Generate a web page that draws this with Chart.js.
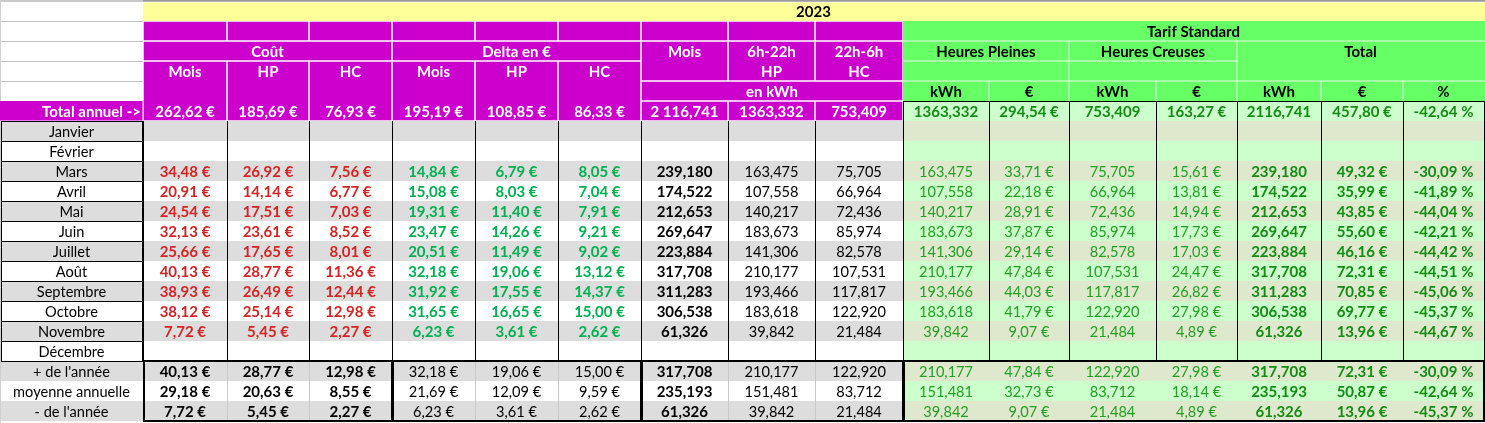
<!DOCTYPE html>
<html>
<head>
<meta charset="utf-8">
<script src="https://cdn.jsdelivr.net/npm/chart.js@4/dist/chart.umd.min.js"></script>
<style>
  html, body { margin: 0; padding: 0; background: #fff; }
  #wrap { width: 1485px; height: 423px; position: relative; }
</style>
</head>
<body>
<div id="wrap"><canvas id="myChart"></canvas></div>
<script>
// months (Janvier .. Décembre), null = no reading yet
const months = ['Janvier','Février','Mars','Avril','Mai','Juin','Juillet','Août','Septembre','Octobre','Novembre','Décembre']

// coût (€)
const coutMois = [null,null,34.48,20.91,24.54,32.13,25.66,40.13,38.93,38.12,7.72,null]
const coutHP   = [null,null,26.92,14.14,17.51,23.61,17.65,28.77,26.49,25.14,5.45,null]
const coutHC   = [null,null,7.56,6.77,7.03,8.52,8.01,11.36,12.44,12.98,2.27,null]
// delta en €
const deltaMois = [null,null,14.84,15.08,19.31,23.47,20.51,32.18,31.92,31.65,6.23,null]
const deltaHP   = [null,null,6.79,8.03,11.40,14.26,11.49,19.06,17.55,16.65,3.61,null]
const deltaHC   = [null,null,8.05,7.04,7.91,9.21,9.02,13.12,14.37,15.00,2.62,null]
// kWh
const kwhMois = [null,null,239.180,174.522,212.653,269.647,223.884,317.708,311.283,306.538,61.326,null]
const kwhHP   = [null,null,163.475,107.558,140.217,183.673,141.306,210.177,193.466,183.618,39.842,null]
const kwhHC   = [null,null,75.705,66.964,72.436,85.974,82.578,107.531,117.817,122.920,21.484,null]
// tarif standard
const stdHPeur  = [null,null,33.71,22.18,28.91,37.87,29.14,47.84,44.03,41.79,9.07,null]
const stdHCeur  = [null,null,15.61,13.81,14.94,17.73,17.03,24.47,26.82,27.98,4.89,null]
const stdTotEur = [null,null,49.32,35.99,43.85,55.60,46.16,72.31,70.85,69.77,13.96,null]
const stdPct    = [null,null,-30.09,-41.89,-44.04,-42.21,-44.42,-44.51,-45.06,-45.37,-44.67,null]

// one value per column B..Q
const totalAnnuel = [262.62,185.69,76.93,195.19,108.85,86.33,2116.741,1363.332,753.409,1363.332,294.54,753.409,163.27,2116.741,457.80,-42.64]
const sumLabels = ["+ de l'année", 'moyenne annuelle', "- de l'année"]
const sumMax = [40.13,28.77,12.98,32.18,19.06,15.00,317.708,210.177,122.920,210.177,47.84,122.920,27.98,317.708,72.31,-30.09]
const sumAvg = [29.18,20.63,8.55,21.69,12.09,9.59,235.193,151.481,83.712,151.481,32.73,83.712,18.14,235.193,50.87,-42.64]
const sumMin = [7.72,5.45,2.27,6.23,3.61,2.62,61.326,39.842,21.484,39.842,9.07,21.484,4.89,61.326,13.96,-45.37]

// layout (in scale units)
const colEdges = [0,143,227,309,392,475,558,641,728,815,903,989,1069,1156,1237,1321,1403,1484]
const hdrEdges = [0,21,41,61,81,101,121]
const bodyTop = 121
const rowH = 20

const MAG = '#cc00cc', YEL = '#ffff99', GRN = '#66ff66'
const GRAY = '#dddddd', LGRN = '#ccffcc', GGRN = '#dde8cc'
const RED = '#d42424', DGRN = '#00b050', TGRN = '#22a022', BGRN = '#128c12'
const FONT = 'Lato, "Open Sans", sans-serif'

const eur = v => v.toFixed(2).replace('.', ',') + ' €'
const kwh = v => v.toFixed(3).replace('.', ',')
const pct = v => v.toFixed(2).replace('.', ',') + ' %'
const kwhSp = v => { const s = kwh(v).split(','); return s[0].replace(/\B(?=(\d{3})+(?!\d))/g, ' ') + ',' + s[1] }

// column styles: format, colour/bold for months, colour/bold for the summary rows
const colDefs = [
  {vals: coutMois, f: eur, c: RED, b: true, sc: '#000', sb: true},
  {vals: coutHP, f: eur, c: RED, b: true, sc: '#000', sb: true},
  {vals: coutHC, f: eur, c: RED, b: true, sc: '#000', sb: true},
  {vals: deltaMois, f: eur, c: DGRN, b: true, sc: '#000', sb: false},
  {vals: deltaHP, f: eur, c: DGRN, b: true, sc: '#000', sb: false},
  {vals: deltaHC, f: eur, c: DGRN, b: true, sc: '#000', sb: false},
  {vals: kwhMois, f: kwh, c: '#000', b: true, sc: '#000', sb: true},
  {vals: kwhHP, f: kwh, c: '#000', b: false, sc: '#000', sb: false},
  {vals: kwhHC, f: kwh, c: '#000', b: false, sc: '#000', sb: false},
  {vals: kwhHP, f: kwh, c: TGRN, b: false, sc: TGRN, sb: false},
  {vals: stdHPeur, f: eur, c: TGRN, b: false, sc: TGRN, sb: false},
  {vals: kwhHC, f: kwh, c: TGRN, b: false, sc: TGRN, sb: false},
  {vals: stdHCeur, f: eur, c: TGRN, b: false, sc: TGRN, sb: false},
  {vals: kwhMois, f: kwh, c: BGRN, b: true, sc: BGRN, sb: true},
  {vals: stdTotEur, f: eur, c: BGRN, b: true, sc: BGRN, sb: true},
  {vals: stdPct, f: pct, c: BGRN, b: true, sc: BGRN, sb: true}
]

const tablePlugin = {
  id: 'table',
  afterDraw(chart) {
    const ctx = chart.ctx
    const sx = chart.scales.x, sy = chart.scales.y
    const X = v => sx.getPixelForValue(v)
    const Y = v => sy.getPixelForValue(v)

    function rect(x0, x1, y0, y1, color) {
      ctx.fillStyle = color
      ctx.fillRect(X(x0), Y(y0), X(x1) - X(x0), Y(y1) - Y(y0))
    }
    function cell(c0, c1, y0, y1, color, inset) {
      const i = inset || 0
      rect(colEdges[c0] + i, colEdges[c1 + 1] - i, y0 + i, y1 - i, color)
    }
    function text(str, c0, c1, yc, color, bold, align) {
      ctx.font = bold ? 'bold 15px ' + FONT : '14.6px ' + FONT
      ctx.fillStyle = color
      ctx.textBaseline = 'middle'
      ctx.textAlign = align || 'center'
      let x = (X(colEdges[c0]) + X(colEdges[c1 + 1])) / 2
      if (align === 'right') x = X(colEdges[c1 + 1]) - 2
      ctx.fillText(str, x, Y(yc) + 1)
    }
    function hline(x0, x1, y, color, w) {
      ctx.strokeStyle = color; ctx.lineWidth = w || 1
      ctx.beginPath(); ctx.moveTo(X(x0), Y(y)); ctx.lineTo(X(x1), Y(y)); ctx.stroke()
    }
    function vline(x, y0, y1, color, w) {
      ctx.strokeStyle = color; ctx.lineWidth = w || 1
      ctx.beginPath(); ctx.moveTo(X(x), Y(y0)); ctx.lineTo(X(x), Y(y1)); ctx.stroke()
    }
    const mid = r => (hdrEdges[r] + hdrEdges[r + 1]) / 2
    const H = hdrEdges

    // top grey strip + grid of column A
    rect(0, 1485, 0, 2, '#c8c8c8')
    rect(143, 1485, 0, 1.5, '#9a9a9a')
    for (let r = 1; r <= 4; r++) hline(0, 143, H[r] + 0.5, '#c0c0c0')
    vline(0.5, 0, 423, '#d0d0d0')

    // 2023 row, centred over B..Q
    rect(143, 1485, 2.5, 21, YEL)
    text('2023', 1, 16, 11.5, '#000', true)

    // magenta header B..J
    const g = 0.75
    for (let c = 1; c <= 9; c++) cell(c, c, H[1], H[2], MAG, g)
    cell(1, 3, H[2], H[3], MAG, g); text('Coût', 1, 3, mid(2), '#fff', true)
    cell(4, 6, H[2], H[3], MAG, g); text('Delta en €', 4, 6, mid(2), '#fff', true)
    const sub = ['Mois', 'HP', 'HC']
    for (let c = 1; c <= 6; c++) {
      cell(c, c, H[3], H[6], MAG, g)
      text(sub[(c - 1) % 3], c, c, mid(3), '#fff', true)
    }
    cell(7, 7, H[2], H[4], MAG, g); text('Mois', 7, 7, mid(2), '#fff', true)
    cell(8, 8, H[2], H[4], MAG, g); text('6h-22h', 8, 8, mid(2), '#fff', true); text('HP', 8, 8, mid(3), '#fff', true)
    cell(9, 9, H[2], H[4], MAG, g); text('22h-6h', 9, 9, mid(2), '#fff', true); text('HC', 9, 9, mid(3), '#fff', true)
    cell(7, 9, H[4], H[5], MAG, g); text('en kWh', 7, 9, mid(4), '#fff', true)
    for (let c = 7; c <= 9; c++) cell(c, c, H[5], H[6], MAG, g)
    rect(0, 142.5, H[5], H[6] - 0.5, MAG)
    text('Total annuel ->', 0, 0, mid(5), '#fff', true, 'right')
    for (let c = 1; c <= 9; c++) {
      const v = totalAnnuel[c - 1]
      const s = c <= 6 ? eur(v) : (c === 7 ? kwhSp(v) : kwh(v))
      text(s, c, c, mid(5), '#fff', true)
    }

    // green header K..Q
    rect(colEdges[10], colEdges[17] + 1, H[1], H[5], GRN)
    text('Tarif Standard', 10, 16, mid(1), '#000', true)
    text('Heures Pleines', 10, 11, mid(2), '#000', true)
    text('Heures Creuses', 12, 13, mid(2), '#000', true)
    text('Total', 14, 16, mid(2), '#000', true)
    const wl = 'rgba(255,255,255,0.85)'
    hline(colEdges[10], colEdges[17] + 1, H[2], wl)
    hline(colEdges[10], colEdges[14], H[3], wl)
    hline(colEdges[10], colEdges[17] + 1, H[4], wl)
    vline(colEdges[12], H[2], H[4], wl)
    vline(colEdges[14], H[2], H[4], wl)
    for (let c = 11; c <= 16; c++) vline(colEdges[c], H[4], H[5], wl)
    const unit = ['kWh', '€', 'kWh', '€', 'kWh', '€', '%']
    for (let c = 10; c <= 16; c++) text(unit[c - 10], c, c, mid(4), '#000', true)
    rect(colEdges[10], colEdges[17], H[5], H[6], LGRN)
    for (let c = 10; c <= 16; c++) {
      const d = colDefs[c - 1]
      text(d.f(totalAnnuel[c - 1]), c, c, mid(5), BGRN, true)
    }

    // month rows
    months.forEach((m, i) => {
      const y0 = bodyTop + i * rowH, y1 = y0 + rowH
      const shade = i % 2 === 0
      rect(1, colEdges[10], y0, y1, shade ? GRAY : '#fff')
      rect(colEdges[10], colEdges[17], y0, y1, shade ? GGRN : LGRN)
      text(m, 0, 0, y0 + rowH / 2, '#000', false)
      colDefs.forEach((d, k) => {
        const v = d.vals[i]
        if (v !== null) text(d.f(v), k + 1, k + 1, y0 + rowH / 2, d.c, d.b)
      })
    })
    // summary rows
    const sums = [sumMax, sumAvg, sumMin]
    const sTop = bodyTop + months.length * rowH
    sums.forEach((arr, i) => {
      const y0 = sTop + i * rowH, y1 = y0 + rowH
      const shade = i % 2 === 0
      rect(1, colEdges[10], y0, y1, shade ? GRAY : '#fff')
      rect(colEdges[10], colEdges[17], y0, y1, shade ? GGRN : LGRN)
      text(sumLabels[i], 0, 0, y0 + rowH / 2, '#000', false)
      arr.forEach((v, k) => {
        const d = colDefs[k]
        text(d.f(v), k + 1, k + 1, y0 + rowH / 2, d.sc, d.sb)
      })
    })
    const sBot = sTop + sums.length * rowH

    // borders: month label boxes, column lines
    for (let i = 0; i < months.length; i++) {
      const y0 = bodyTop + i * rowH
      ctx.strokeStyle = '#000'; ctx.lineWidth = 1
      ctx.strokeRect(X(1.5), Y(y0 + 0.5), X(142.5) - X(1.5), rowH)
    }
    for (let c = 1; c <= 17; c++) vline(colEdges[c] + 0.5, bodyTop, sTop, '#000')
    // green total row grid
    hline(colEdges[10], colEdges[17] + 1, H[5] + 0.5, '#000')
    for (let c = 10; c <= 17; c++) vline(colEdges[c] + 0.5, H[5], bodyTop, '#000')
    // faint lines inside summary groups
    ;[2, 3, 5, 6, 8, 9].forEach(c => vline(colEdges[c] + 0.5, sTop, sBot, '#c8c8c8'))
    // thick boxes round the summary groups
    const groups = [[1, 3], [4, 6], [7, 9], [10, 16]]
    groups.forEach(([a, b]) => {
      ctx.strokeStyle = '#000'; ctx.lineWidth = 2
      ctx.strokeRect(X(colEdges[a] + 1), Y(sTop), X(colEdges[b + 1]) - X(colEdges[a] + 1), Y(sBot) - Y(sTop))
    })
  }
}

const ctx = document.getElementById('myChart').getContext('2d')
const myChart = new Chart(ctx, {
  type: 'scatter',
  data: { datasets: [] },
  options: {
    responsive: true,
    maintainAspectRatio: false,
    animation: false,
    events: [],
    layout: { padding: 0 },
    plugins: { legend: { display: false }, tooltip: { enabled: false } },
    scales: {
      x: { type: 'linear', display: false, min: 0, max: 1485 },
      y: { type: 'linear', display: false, min: 0, max: 423, reverse: true }
    }
  },
  plugins: [tablePlugin]
})
</script>
</body>
</html>
